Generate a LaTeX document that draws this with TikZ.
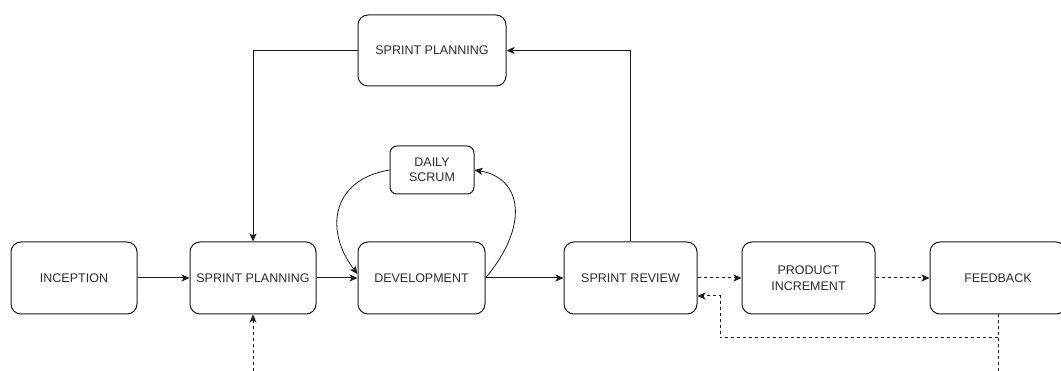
\documentclass[tikz,border=0pt]{standalone}
\usepackage{fontspec}
\setmainfont{Liberation Sans}
\usepackage{xcolor}
\definecolor{label-gray}{HTML}{2B2B2B}
\definecolor{edge-black}{HTML}{1A1A1A}
\usepackage{tikz}
\usetikzlibrary{arrows.meta}

\tikzset{
  stage/.style={draw=edge-black, line width=1pt, rounded corners=10pt,
    minimum width=126pt, minimum height=72pt, align=center,
    text=label-gray, font=\fontsize{12.5}{16}\selectfont},
  flow/.style={draw=edge-black, line width=1pt, -{Stealth[length=8pt,width=7pt,inset=2pt]}},
  loose/.style={flow, dash pattern=on 3pt off 3pt},
}

\begin{document}
\begin{tikzpicture}[x=1pt, y=-1pt]

    % Page frame
    \useasboundingbox (0,0) rectangle (1061,371);

  % Stages of the sprint
  \node[stage] (incep) at (74,278) {INCEPTION};
  \node[stage] (plan) at (253,278) {SPRINT PLANNING};
  \node[stage, minimum width=127pt] (dev) at (421.5,278) {DEVELOPMENT};
  \node[stage, minimum width=133pt] (review) at (630.5,278) {SPRINT REVIEW};
  \node[stage, minimum width=133pt] (incr) at (808.5,278) {PRODUCT\\INCREMENT};
  \node[stage, minimum width=136pt] (feed) at (998,278) {FEEDBACK};

  % Boxes above the line
  \node[stage, minimum width=148pt, minimum height=71pt] (replan) at (432,50.5) {SPRINT PLANNING};
  \node[stage, minimum width=84pt, minimum height=48pt, rounded corners=7pt,
        font=\fontsize{12.5}{15}\selectfont] (daily) at (432,170) {DAILY\\SCRUM};

  % Free ends at the bottom
  \coordinate (planin) at (253,371);
  \coordinate (feedout) at (998,371);
  \coordinate (feedsplit) at (998,338);

  % Main flow
  \draw[flow] (incep) -- (plan);
  \draw[flow] (plan) -- (dev);
  \draw[flow] (dev) -- (review);
  \draw[flow] (review.north) |- (replan.east);
  \draw[flow] (replan.west) -| (plan.north);

  % Daily loop
  \draw[flow, line width=0.8pt] (dev.east) .. controls (530,225) and (522,178) .. (daily.east);
  \draw[flow, line width=0.8pt] (daily.west) .. controls (330,180) and (325,232) .. ([yshift=4pt]dev.west);

  % Dashed flow
  \draw[loose] (review) -- (incr);
  \draw[loose] (incr) -- (feed);
  \draw[loose] (planin) -- (plan.south);
  \draw[loose, -] (feed.south) -- (feedout);
  \draw[loose] (feedsplit) -| (720,296) -- ([yshift=-18pt]review.east);

\end{tikzpicture}
\end{document}
